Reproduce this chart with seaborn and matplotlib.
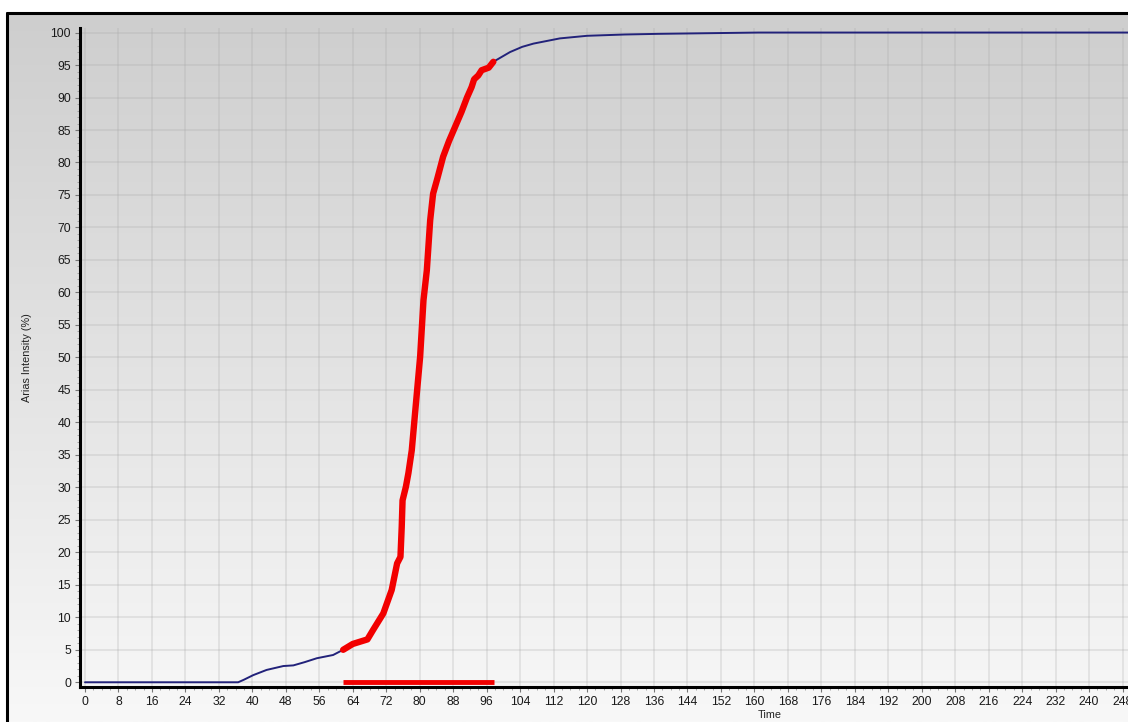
import numpy as np
import pandas as pd
import matplotlib
matplotlib.use("Agg")
import matplotlib.pyplot as plt
import seaborn as sns
from matplotlib.ticker import MultipleLocator
from matplotlib.lines import Line2D

sns.set_theme(style="white")
plt.rcParams['font.family'] = ['Liberation Sans', 'DejaVu Sans']

# Husid curve, split into the three drawn parts
time_pre = [0, 36.6, 38.0, 40.2, 43.4, 47.4, 49.8, 52.5, 55.4, 59.3, 61.7]
ai_pre = [0, 0, 0.4, 1.1, 1.9, 2.5, 2.6, 3.1, 3.7, 4.2, 5.0]

time_sig = [61.7, 64.0, 66.5, 67.5, 68.9, 71.3, 73.3, 74.6, 75.4, 75.7, 75.9,
            76.7, 77.3, 78.1, 78.9, 80.1, 80.9, 81.7, 82.5, 83.2, 84.2, 85.6,
            87.0, 88.4, 90.0, 91.3, 92.4, 93.0, 94.0, 94.8, 96.5, 97.6]
ai_sig = [5.0, 5.9, 6.4, 6.6, 8.1, 10.6, 14.2, 18.3, 19.3, 23.9, 28.0,
          30.1, 32.2, 35.7, 41.5, 50.1, 58.8, 63.4, 71.1, 75.2, 77.5, 80.9,
          83.3, 85.4, 87.8, 90.0, 91.6, 92.8, 93.4, 94.2, 94.6, 95.5]

time_post = [97.6, 101.6, 104.5, 107.2, 113.5, 120.0, 129.0, 137.0, 161.0, 250.0]
ai_post = [95.5, 97.0, 97.8, 98.3, 99.1, 99.5, 99.7, 99.8, 100.0, 100.0]

# significant duration bar drawn on the time axis
duration_t = [61.7, 97.7]
duration_y = [0, 0]

x_ticks = list(range(0, 249, 8))
y_ticks = list(range(0, 101, 5))

W, H = 1128, 722
fig = plt.figure(figsize=(W / 100, H / 100), dpi=100)
fig.patch.set_facecolor("white")

# gradient panel, framed on the left and top (the rest is cropped away)
bg = fig.add_axes([7 / W, 0, 1 - 7 / W, (H - 13) / H])
grad = np.linspace(0, 1, 256).reshape(-1, 1)
cmap = matplotlib.colors.LinearSegmentedColormap.from_list("g", ["#cecece", "#f8f8f8"])
bg.imshow(grad, aspect="auto", cmap=cmap, extent=[0, 1, 0, 1], origin="upper")
bg.set_xlim(0, 1)
bg.set_ylim(0, 1)
bg.axis("off")
fig.add_artist(Line2D([7 / W, 7 / W], [0, (H - 13) / H], color="black", linewidth=2.2))
fig.add_artist(Line2D([7 / W, 1], [(H - 13) / H, (H - 13) / H], color="black", linewidth=2.2))

ax = fig.add_axes([80 / W, (H - 686.7) / H, 1 - 80 / W, (686.7 - 28) / H])
ax.set_facecolor("none")

pre = pd.DataFrame({"t": time_pre, "ai": ai_pre})
sig = pd.DataFrame({"t": time_sig, "ai": ai_sig})
post = pd.DataFrame({"t": time_post, "ai": ai_post})
dur = pd.DataFrame({"t": duration_t, "ai": duration_y})

blue = "#22227a"
red = "#f20000"
sns.lineplot(data=pre, x="t", y="ai", ax=ax, color=blue, linewidth=1.4,
             sort=False, estimator=None, zorder=3)
sns.lineplot(data=post, x="t", y="ai", ax=ax, color=blue, linewidth=1.4,
             sort=False, estimator=None, zorder=3)
sns.lineplot(data=sig, x="t", y="ai", ax=ax, color=red, linewidth=4.6,
             sort=False, estimator=None, zorder=4)
sns.lineplot(data=dur, x="t", y="ai", ax=ax, color=red, linewidth=3.5,
             sort=False, estimator=None, zorder=4, solid_capstyle="butt")

ax.set_xlim(-1.2, 249.3)
ax.set_ylim(-0.68, 100.7)
ax.set_xticks(x_ticks)
ax.set_yticks(y_ticks)
ax.xaxis.set_minor_locator(MultipleLocator(2))
ax.yaxis.set_minor_locator(MultipleLocator(1))
ax.grid(True, which="major", color="#a8a8a8", alpha=0.28, linewidth=1.2)
ax.tick_params(which="major", direction="out", length=3.5, width=0.8,
               color="#777777", labelsize=8.8, labelcolor="#1a1a1a", pad=3,
               left=True, bottom=True)
ax.tick_params(which="minor", direction="out", length=2, width=0.6,
               color="#999999", left=True, bottom=True)

for side in ["top", "right"]:
    ax.spines[side].set_visible(False)
for side in ["left", "bottom"]:
    ax.spines[side].set_color("black")
    ax.spines[side].set_linewidth(2.2)

ax.set_xlabel("Time", fontsize=7.8, color="#222222")
ax.set_ylabel("Arias Intensity (%)", fontsize=7.8, color="#222222")
ax.xaxis.set_label_coords(0.658, -0.036)
ax.yaxis.set_label_coords(-0.046, 0.5)

fig.savefig("out.png", dpi=100)
